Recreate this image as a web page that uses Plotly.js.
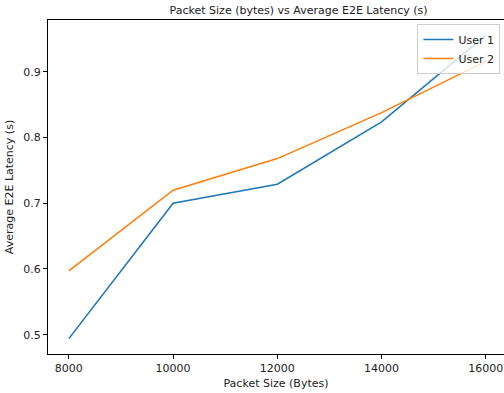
<!DOCTYPE html>
<html>
<head>
<meta charset="utf-8">
<script src="https://cdn.plot.ly/plotly-3.0.1.min.js"></script>
<style>html,body{margin:0;padding:0;background:#fff;}#chart{width:504px;height:393px;}</style>
</head>
<body>
<div id="chart"></div>
<script>
const packetSizes = [8000, 10000, 12000, 14000, 16000];
const user1Latency = [0.494, 0.700, 0.729, 0.824, 0.956];
const user2Latency = [0.597, 0.720, 0.768, 0.838, 0.916];
const seriesNames = ["User 1", "User 2"];
const xTicks = [8000, 10000, 12000, 14000, 16000];
const yTicks = [0.5, 0.6, 0.7, 0.8, 0.9];

const font = "DejaVu Sans, sans-serif";
const traces = [
  {x: packetSizes, y: user1Latency, name: seriesNames[0], mode: "lines", line: {color: "#1f77b4", width: 1.6}},
  {x: packetSizes, y: user2Latency, name: seriesNames[1], mode: "lines", line: {color: "#ff7f0e", width: 1.6}}
];
const layout = {
  width: 504, height: 393,
  margin: {l: 48, r: 0, t: 20, b: 39, pad: 0},
  paper_bgcolor: "#fff", plot_bgcolor: "#fff",
  font: {family: font, size: 11, color: "#222"},
  title: {text: "Packet Size (bytes) vs Average E2E Latency (s)", font: {family: font, size: 11, color: "#222"},
          x: 277/504, xanchor: "center", xref: "paper", y: 1 - 10/393, yanchor: "middle"},
  xaxis: {range: [7600, 16348], tickvals: xTicks, ticktext: xTicks.map(String), showgrid: false, zeroline: false,
          showline: true, linecolor: "#000", linewidth: 1, mirror: true, ticks: "outside", ticklen: 4, tickcolor: "#000",
          tickfont: {family: font, size: 11, color: "#222"},
          title: {text: "Packet Size (Bytes)", font: {family: font, size: 11, color: "#222"}, standoff: 5}},
  yaxis: {range: [0.4706, 0.979], tickvals: yTicks, ticktext: yTicks.map(v => v.toFixed(1)), showgrid: false, zeroline: false,
          showline: true, linecolor: "#000", linewidth: 1, ticks: "outside", ticklen: 4, tickcolor: "#000",
          tickfont: {family: font, size: 11, color: "#222"},
          title: {text: "Average E2E Latency (s)", font: {family: font, size: 11, color: "#222"}, standoff: 7}},
  legend: {x: 500/504, xanchor: "right", y: 1 - 4/334, yanchor: "top", bgcolor: "rgba(255,255,255,0.8)",
           bordercolor: "#ccc", borderwidth: 1, font: {family: font, size: 11, color: "#222"}, tracegroupgap: 0,
           itemwidth: 30},
  showlegend: true
};
Plotly.newPlot("chart", traces, layout, {displayModeBar: false, staticPlot: true});
</script>
</body>
</html>
